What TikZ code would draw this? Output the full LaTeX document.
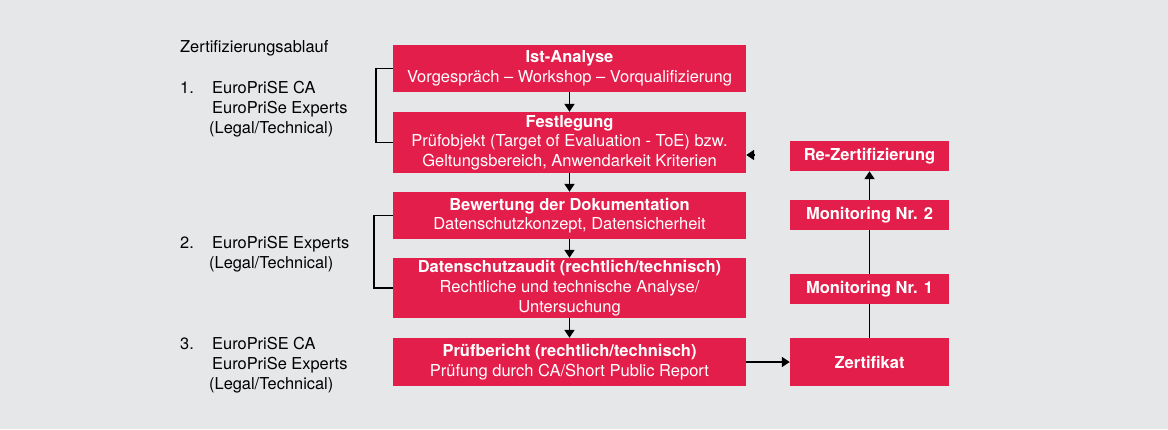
\documentclass[tikz,border=0pt]{standalone}
\usepackage{fontspec}
\setmainfont{TeX Gyre Heros}
\usetikzlibrary{arrows.meta}

\definecolor{eprred}{RGB}{228,30,75}
\definecolor{eprbg}{RGB}{230,231,232}

\tikzset{
    stepbox/.style={fill=eprred, text=white, align=center, inner sep=0pt,
        font=\fontsize{16.5}{19.7}\selectfont},
    widebox/.style={stepbox, minimum width=353},
    smallbox/.style={stepbox, minimum width=159, font=\fontsize{16.5}{19.7}\selectfont\bfseries},
    sidetext/.style={anchor=base west, inner sep=0pt, font=\fontsize{16.4}{20}\selectfont},
    flow/.style={line width=1.6pt, -{Triangle[length=8pt,width=10pt]}},
    bracket/.style={line width=1.5pt},
}

\begin{document}
\begin{tikzpicture}[x=1pt,y=-1pt]
    \fill[eprbg] (0,0) rectangle (1168,429);
    \useasboundingbox (0,0) rectangle (1168,429);

    % left labels
    \node[sidetext] (head) at (180,52.5) {Zertifizierungsablauf};

    \node[sidetext] (num1) at (180,93) {1.};
    \node[sidetext] (ca1) at (212,93) {EuroPriSE CA};
    \node[sidetext] (ex1) at (212,113) {EuroPriSe Experts};
    \node[sidetext] (lt1) at (209,133) {(Legal/Technical)};

    \node[sidetext] (num2) at (180,248) {2.};
    \node[sidetext] (ex2) at (212,248) {EuroPriSE Experts};
    \node[sidetext] (lt2) at (209,268) {(Legal/Technical)};

    \node[sidetext] (num3) at (180,349) {3.};
    \node[sidetext] (ca3) at (212,349) {EuroPriSE CA};
    \node[sidetext] (ex3) at (212,369) {EuroPriSe Experts};
    \node[sidetext] (lt3) at (209,389) {(Legal/Technical)};

    % main steps
    \node[widebox, minimum height=47] (ist) at (569.5,68.5)
        {\textbf{Ist-Analyse}\\Vorgespräch – Workshop – Vorqualifizierung};
    \node[widebox, minimum height=61] (fest) at (569.5,142.5)
        {\textbf{Festlegung}\\Prüfobjekt (Target of Evaluation - ToE) bzw.\\Geltungsbereich, Anwendarkeit Kriterien};
    \node[widebox, minimum height=47] (bew) at (569.5,215.5)
        {\textbf{Bewertung der Dokumentation}\\Datenschutzkonzept, Datensicherheit};
    \node[widebox, minimum height=60] (audit) at (569.5,288)
        {\textbf{Datenschutzaudit (rechtlich/technisch)}\\Rechtliche und technische Analyse/\\Untersuchung};
    \node[widebox, minimum height=48] (pruef) at (569.5,362)
        {\textbf{Prüfbericht (rechtlich/technisch)}\\Prüfung durch CA/Short Public Report};

    % right column
    \node[smallbox, minimum height=48] (zert) at (869.5,362) {Zertifikat};
    \node[smallbox, minimum height=30] (mon1) at (869.5,289) {Monitoring Nr. 1};
    \node[smallbox, minimum height=30] (mon2) at (869.5,215) {Monitoring Nr. 2};
    \node[smallbox, minimum height=30] (rez) at (869.5,156) {Re-Zertifizierung};

    \draw[flow] (ist) -- (fest);
    \draw[flow] (fest) -- (bew);
    \draw[flow] (bew) -- (audit);
    \draw[flow] (audit) -- (pruef);
    \draw[flow] (pruef) -- (zert);
    \draw[line width=1.6pt] (zert) -- (mon1);
    \draw[line width=1.6pt] (mon1) -- (mon2);
    \draw[flow] (mon2) -- (rez);

    \coordinate (back) at (754,155);
    \draw[flow] (back) -- (back -| fest.east);

    \draw[bracket] (ist.west) -- ++(-17,0) |- (fest.west);
    \draw[bracket] (bew.west) -- ++(-19,0) |- (audit.west);
\end{tikzpicture}
\end{document}
